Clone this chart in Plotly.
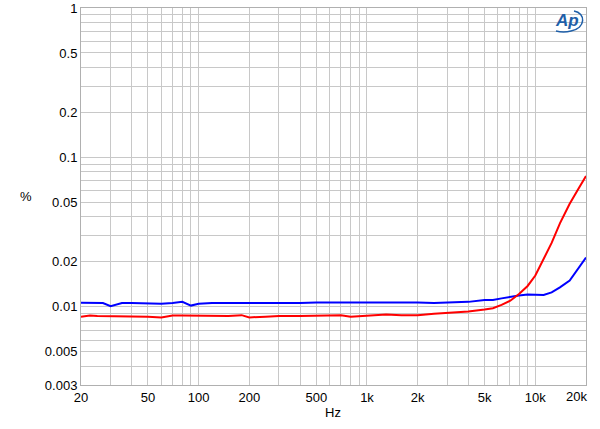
import plotly.graph_objects as go

freq = [20, 22.6, 25, 27, 30, 35, 40, 50, 60, 70, 80, 90, 100, 120, 150, 180, 200,
        250, 300, 400, 500, 600, 700, 800, 1000, 1300, 1600, 2000, 2500, 3000, 4000,
        5000, 5600, 6300, 7100, 8000, 9000, 10000, 11200, 12500, 14000, 16000, 18000, 20000]

blue = [0.01065, 0.01068, 0.01068, 0.0106, 0.0101, 0.0106, 0.0106, 0.0105, 0.0105, 0.0106,
        0.0108, 0.0102, 0.0105, 0.0106, 0.0106, 0.0105, 0.0105, 0.0106, 0.0106, 0.0106,
        0.0107, 0.0107, 0.0107, 0.0107, 0.0107, 0.0108, 0.0108, 0.0107, 0.0106, 0.0107,
        0.0108, 0.0111, 0.0111, 0.0114, 0.0117, 0.0119, 0.0121, 0.0120, 0.0120, 0.0125,
        0.0135, 0.0150, 0.0180, 0.0214]

red = [0.00858, 0.00875, 0.0087, 0.0087, 0.0087, 0.0087, 0.0086, 0.0086, 0.0085, 0.00875,
       0.00875, 0.00875, 0.0087, 0.00865, 0.0087, 0.0088, 0.0085, 0.0086, 0.0087, 0.0087,
       0.0087, 0.0087, 0.0088, 0.0086, 0.0087, 0.0089, 0.0088, 0.0088, 0.0090, 0.0091,
       0.0093, 0.0096, 0.0098, 0.0103, 0.0110, 0.0122, 0.0138, 0.0162, 0.0207, 0.0268,
       0.0362, 0.0490, 0.0615, 0.0750]

x_grid = [20, 30, 40, 50, 60, 70, 80, 90, 100, 200, 300, 400, 500, 600, 700, 800, 900,
          1000, 2000, 3000, 4000, 5000, 6000, 7000, 8000, 9000, 10000, 20000]
x_labels = {20: "20", 50: "50", 100: "100", 200: "200", 500: "500", 1000: "1k",
            2000: "2k", 5000: "5k", 10000: "10k"}
x_last_label = "20k"

y_grid = [0.003, 0.004, 0.005, 0.006, 0.007, 0.008, 0.009, 0.01, 0.02, 0.03, 0.04, 0.05,
          0.06, 0.07, 0.08, 0.09, 0.1, 0.2, 0.3, 0.4, 0.5, 0.6, 0.7, 0.8, 0.9, 1]
y_labels = {0.003: "0.003", 0.005: "0.005", 0.01: "0.01", 0.02: "0.02", 0.05: "0.05",
            0.1: "0.1", 0.2: "0.2", 0.5: "0.5", 1: "1"}

fig = go.Figure()
fig.add_trace(go.Scatter(x=freq, y=blue, mode="lines",
                         line=dict(color="#0000ff", width=2), showlegend=False))
fig.add_trace(go.Scatter(x=freq, y=red, mode="lines",
                         line=dict(color="#ff0000", width=2), showlegend=False))

font = dict(family="Liberation Sans, Arial, sans-serif", size=13, color="#000000")

L, R, T, B = 81, 586, 8, 385

fig.update_layout(
    width=600, height=429,
    margin=dict(l=L, r=600 - R, t=T, b=429 - B),
    paper_bgcolor="white", plot_bgcolor="white",
    font=font,
    xaxis=dict(type="log", range=[1.30103, 4.30103], automargin=False,
               tickvals=x_grid, ticktext=[x_labels.get(v, "") for v in x_grid],
               showgrid=True, gridcolor="#c8c8c8", gridwidth=1,
               showline=True, linecolor="#b0b0b0", linewidth=1, mirror=True,
               ticks="", zeroline=False, tickfont=font),
    yaxis=dict(type="log", range=[-2.522879, 0], automargin=False,
               tickvals=y_grid, ticktext=[y_labels.get(v, "") for v in y_grid],
               showgrid=True, gridcolor="#c8c8c8", gridwidth=1,
               showline=True, linecolor="#b0b0b0", linewidth=1, mirror=True,
               ticks="", zeroline=False, tickfont=font),
)

def px(x):
    return (x - L) / (R - L)

def py(y):
    return (B - y) / (B - T)

fig.add_annotation(text=x_last_label, xref="paper", yref="paper",
                   x=px(576), y=py(397), showarrow=False, font=font,
                   xanchor="center", yanchor="middle")

fig.add_annotation(text="%", xref="paper", yref="paper",
                   x=px(26), y=py(196),
                   showarrow=False, font=font, xanchor="center", yanchor="middle")

fig.add_annotation(text="Hz", xref="paper", yref="paper",
                   x=px(333), y=py(412),
                   showarrow=False, font=font, xanchor="center", yanchor="middle")

# AP logo
fig.add_annotation(text="<i><b>Ap</b></i>", xref="paper", yref="paper",
                   x=px(567), y=py(21),
                   showarrow=False, xanchor="center", yanchor="middle",
                   font=dict(family="Liberation Sans, Arial, sans-serif", size=17, color="#1f5fa8"))

path = (f"M {px(574)} {py(11)} "
        f"C {px(586)} {py(13)} {px(586)} {py(28)} {px(571)} {py(31)} "
        f"C {px(565)} {py(32.5)} {px(560)} {py(32)} {px(556)} {py(31)}")
fig.add_shape(type="path", path=path, xref="paper", yref="paper",
              line=dict(color="#1f5fa8", width=1.5))

fig.write_html("out.html", config={"displayModeBar": False},
               post_script="document.body.style.margin='0';document.body.style.overflow='hidden';")
